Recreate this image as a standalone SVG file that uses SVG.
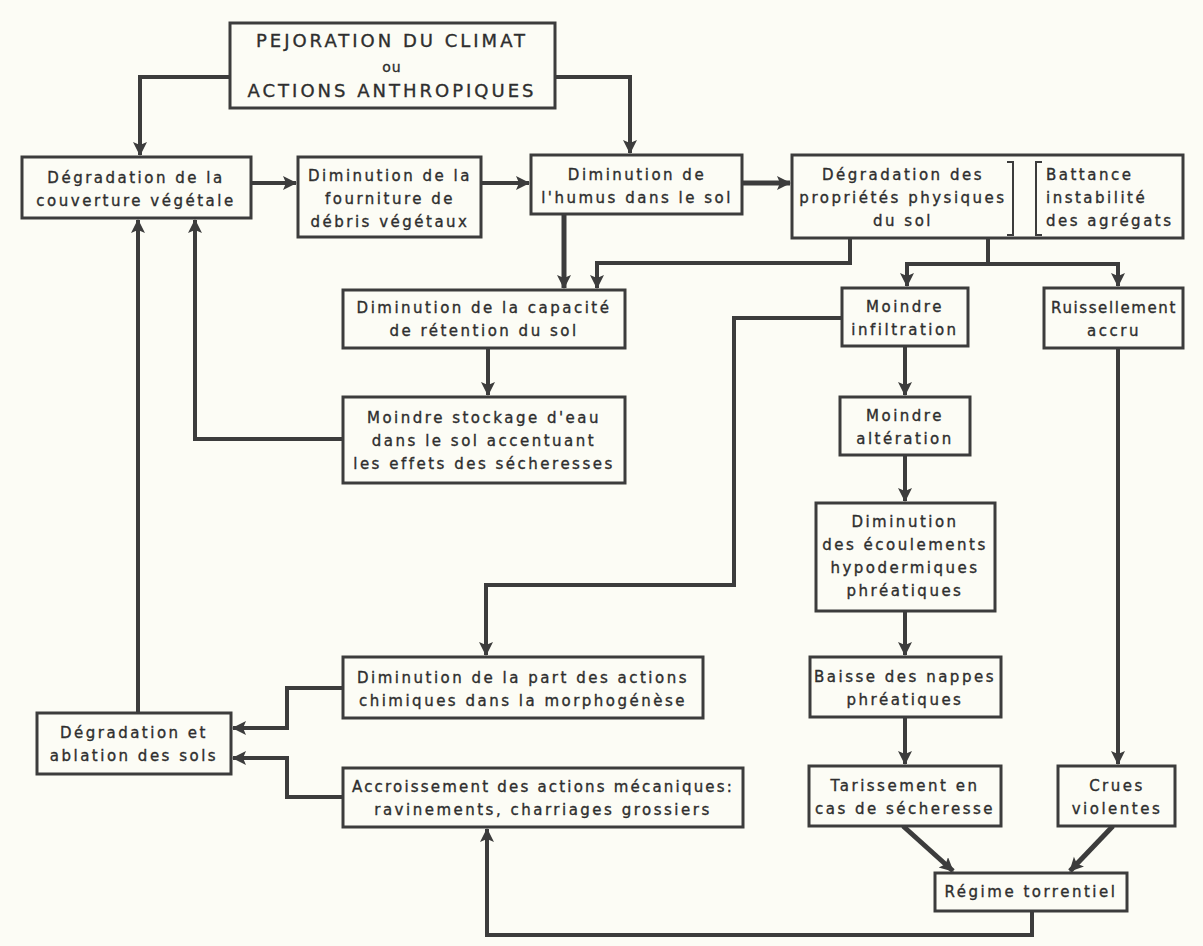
<svg xmlns="http://www.w3.org/2000/svg" width="1203" height="946" viewBox="0 0 1203 946">
<defs>
<marker id="ah" markerUnits="userSpaceOnUse" markerWidth="16" markerHeight="16" refX="13" refY="7" orient="auto">
<path d="M0,0 L14,7 L0,14 L3,7 Z" fill="#3c3c3c"/>
</marker>
<style>
.bx{fill:#fcfcf5;stroke:#3c3c3c;stroke-width:3}
.t{font-family:"DejaVu Sans","Liberation Sans",sans-serif;font-size:15px;letter-spacing:2.5px;fill:#2e2e2e;stroke:#2e2e2e;stroke-width:0.35;text-anchor:middle}
.tl{text-anchor:start}
.big{font-size:18px;letter-spacing:3px}
.c{fill:none;stroke:#3c3c3c;stroke-width:4;marker-end:url(#ah)}
.br{fill:none;stroke:#3c3c3c;stroke-width:2}
</style>
</defs>
<rect width="1203" height="946" fill="#fcfcf5"/>
<g id="connectors">
<path class="c" d="M230,77 H140 V155"/>
<path class="c" d="M555,77 H630 V153"/>
<path class="c" d="M251,183 H296"/>
<path class="c" d="M482,183 H529"/>
<path class="c" d="M742,183 H790" style="stroke-width:5"/>
<path class="c" d="M564,214 V288" style="stroke-width:5"/>
<path class="c" d="M850,238 V263 H597 V288"/>
<path class="c" d="M988,238 V264 H907 V286"/>
<path class="c" d="M988,264 H1118 V286"/>
<path class="c" d="M488,348 V395"/>
<path class="c" d="M343,439 H195 V220"/>
<path class="c" d="M905,346 V395"/>
<path class="c" d="M905,455 V501"/>
<path class="c" d="M905,611 V655"/>
<path class="c" d="M905,717 V764"/>
<path class="c" d="M1118,348 V764"/>
<path class="c" d="M903,826 L953,871" style="stroke-width:5"/>
<path class="c" d="M1113,826 L1070,871" style="stroke-width:5"/>
<path class="c" d="M1032,911 V935 H487 V829"/>
<path class="c" d="M842,318 H734 V585 H486 V655"/>
<path class="c" d="M343,688 H287 V728 H233"/>
<path class="c" d="M343,797 H287 V758 H233"/>
<path class="c" d="M138,713 V220"/>
</g>
<g id="n-top">
<rect class="bx" x="230" y="23" width="325" height="85"/>
<text class="t big" x="392" y="47">PEJORATION DU CLIMAT</text>
<text class="t" x="392" y="72" style="font-size:14px;letter-spacing:1px">ou</text>
<text class="t big" x="392" y="97">ACTIONS ANTHROPIQUES</text>
</g>
<g id="n-degr-couv">
<rect class="bx" x="22" y="157" width="229" height="61"/>
<text class="t" x="136" y="183">Dégradation de la</text>
<text class="t" x="136" y="206">couverture végétale</text>
</g>
<g id="n-fourniture">
<rect class="bx" x="298" y="157" width="183" height="80"/>
<text class="t" x="390" y="181">Diminution de la</text>
<text class="t" x="390" y="204">fourniture de</text>
<text class="t" x="390" y="227">débris végétaux</text>
</g>
<g id="n-humus">
<rect class="bx" x="531" y="155" width="211" height="59"/>
<text class="t" x="637" y="180">Diminution de</text>
<text class="t" x="637" y="203">l'humus dans le sol</text>
</g>
<g id="n-proprietes">
<rect class="bx" x="792" y="155" width="391" height="83"/>
<text class="t" x="903" y="180">Dégradation des</text>
<text class="t" x="903" y="203">propriétés physiques</text>
<text class="t" x="903" y="226">du sol</text>
<path class="br" d="M1007,162 H1013 V235 H1007"/>
<path class="br" d="M1042,162 H1036 V235 H1042"/>
<text class="t tl" x="1046" y="180">Battance</text>
<text class="t tl" x="1046" y="203">instabilité</text>
<text class="t tl" x="1046" y="226">des agrégats</text>
</g>
<g id="n-capacite">
<rect class="bx" x="343" y="290" width="282" height="58"/>
<text class="t" x="484" y="313">Diminution de la capacité</text>
<text class="t" x="484" y="336">de rétention du sol</text>
</g>
<g id="n-stockage">
<rect class="bx" x="343" y="397" width="282" height="86"/>
<text class="t" x="484" y="423">Moindre stockage d'eau</text>
<text class="t" x="484" y="446">dans le sol accentuant</text>
<text class="t" x="484" y="469">les effets des sécheresses</text>
</g>
<g id="n-infiltration">
<rect class="bx" x="842" y="288" width="126" height="58"/>
<text class="t" x="905" y="312">Moindre</text>
<text class="t" x="905" y="335">infiltration</text>
</g>
<g id="n-ruissellement">
<rect class="bx" x="1044" y="288" width="139" height="60"/>
<text class="t" x="1114" y="313" style="letter-spacing:1.6px">Ruissellement</text>
<text class="t" x="1114" y="336">accru</text>
</g>
<g id="n-alteration">
<rect class="bx" x="840" y="397" width="130" height="58"/>
<text class="t" x="905" y="421">Moindre</text>
<text class="t" x="905" y="444">altération</text>
</g>
<g id="n-ecoulements">
<rect class="bx" x="816" y="503" width="179" height="108"/>
<text class="t" x="905" y="527">Diminution</text>
<text class="t" x="905" y="550">des écoulements</text>
<text class="t" x="905" y="573">hypodermiques</text>
<text class="t" x="905" y="596">phréatiques</text>
</g>
<g id="n-nappes">
<rect class="bx" x="810" y="657" width="191" height="60"/>
<text class="t" x="905" y="682">Baisse des nappes</text>
<text class="t" x="905" y="705">phréatiques</text>
</g>
<g id="n-tarissement">
<rect class="bx" x="809" y="766" width="192" height="60"/>
<text class="t" x="905" y="791">Tarissement en</text>
<text class="t" x="905" y="814">cas de sécheresse</text>
</g>
<g id="n-crues">
<rect class="bx" x="1058" y="766" width="117" height="60"/>
<text class="t" x="1117" y="791">Crues</text>
<text class="t" x="1117" y="814">violentes</text>
</g>
<g id="n-regime">
<rect class="bx" x="935" y="873" width="192" height="38"/>
<text class="t" x="1031" y="897">Régime torrentiel</text>
</g>
<g id="n-chimiques">
<rect class="bx" x="343" y="657" width="360" height="61"/>
<text class="t" x="523" y="683">Diminution de la part des actions</text>
<text class="t" x="523" y="706">chimiques dans la morphogénèse</text>
</g>
<g id="n-mecaniques">
<rect class="bx" x="343" y="768" width="400" height="59"/>
<text class="t" x="543" y="792" style="letter-spacing:2.2px">Accroissement des actions mécaniques:</text>
<text class="t" x="543" y="815">ravinements, charriages grossiers</text>
</g>
<g id="n-ablation">
<rect class="bx" x="37" y="713" width="194" height="61"/>
<text class="t" x="134" y="738">Dégradation et</text>
<text class="t" x="134" y="761">ablation des sols</text>
</g>
</svg>
